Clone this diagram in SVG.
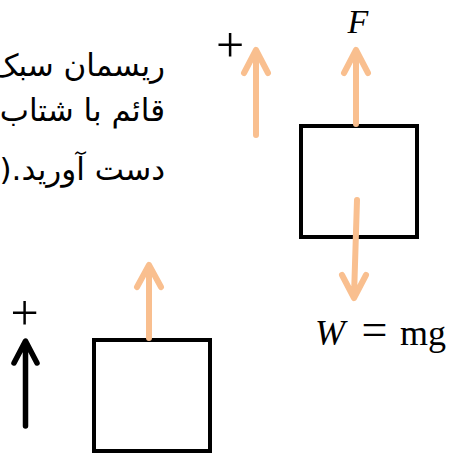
<svg xmlns="http://www.w3.org/2000/svg" width="452" height="453" viewBox="0 0 452 453">
<style>
.fa{font-family:"DejaVu Sans","Noto Sans",sans-serif;font-size:31px;fill:#000}
.math{font-family:"Liberation Serif","DejaVu Serif",serif;fill:#000}
.box{fill:#fff;stroke:#000;stroke-width:4}
.or{fill:none;stroke:#F9BF8F;stroke-width:6;stroke-linecap:round;stroke-linejoin:round}
.bk{fill:none;stroke:#000;stroke-width:5.5;stroke-linecap:round;stroke-linejoin:round}
</style>
<rect width="452" height="453" fill="#fff"/>
<g id="text">
<text class="fa" x="165" y="76" direction="rtl" text-anchor="start">ریسمان سبک</text>
<text class="fa" x="165" y="121" direction="rtl" text-anchor="start">قائم با شتاب</text>
<text class="fa" x="165" y="180" direction="rtl" text-anchor="start">دست آورید.(</text>
</g>
<g id="box1"><rect class="box" x="301" y="126" width="116" height="111"/></g>
<g id="box2"><rect class="box" x="94" y="340" width="116" height="111"/></g>
<g id="labels">
<text class="math" x="230" y="62" font-size="50" text-anchor="middle">+</text>
<text class="math" x="24.5" y="330" font-size="50" text-anchor="middle">+</text>
<text class="math" x="358" y="33" font-size="34" font-style="italic" text-anchor="middle">F</text>
<text class="math" x="315" y="345" font-size="36"><tspan font-style="italic">W</tspan><tspan x="374.5" font-size="46" text-anchor="middle">=</tspan><tspan x="400">mg</tspan></text>
</g>
<g id="connectors">
<path class="or" d="M256,135 L256,52 M244,73 L256,50 L268,73"/>
<path class="or" d="M356,124 L356,52 M344,73 L356,50 L368,73"/>
<path class="or" d="M357,200 L354,296 M342,275 L354,298 L366,275"/>
<path class="or" d="M149,338 L149,267 M137,287 L149,265 L161,287"/>
<path class="bk" d="M25.5,426 L25.5,343 M14,363 L25.5,341 L37,363"/>
</g>
</svg>
